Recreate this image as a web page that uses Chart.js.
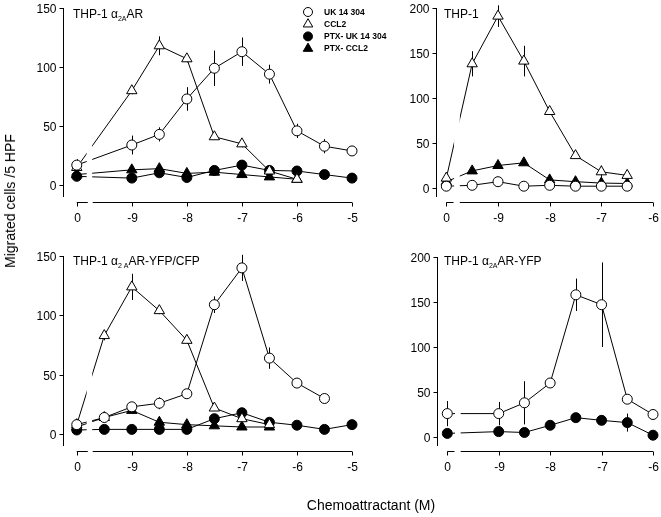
<!DOCTYPE html>
<html>
<head>
<meta charset="utf-8">
<script src="https://cdn.jsdelivr.net/npm/chart.js@4.4.1/dist/chart.umd.min.js"></script>
<style>
  body { margin: 0; background: #fff; }
  #wrap { position: relative; width: 661px; height: 517px; font-family: "Liberation Sans", Arial, sans-serif; }
  canvas { position: absolute; left: 0; top: 0; }
  .ttl { position: absolute; font-size: 14px; color: #000; white-space: nowrap; }
  #xt { left: 371px; top: 505px; transform: translate(-50%, -50%); }
  #yt { left: 10px; top: 201px; transform: translate(-50%, -50%) rotate(-90deg); }
</style>
</head>
<body>
<div id="wrap">
  <canvas id="c1" width="661" height="517"></canvas>
  <canvas id="c2" width="661" height="517"></canvas>
  <canvas id="c3" width="661" height="517"></canvas>
  <canvas id="c4" width="661" height="517"></canvas>
  <div class="ttl" id="xt">Chemoattractant (M)</div>
  <div class="ttl" id="yt">Migrated cells /5 HPF</div>
</div>
<script>
// log濃度 (0 = 対照, 軸の切れ目の左に置く)
const ZERO = -10;

// パネル1 THP-1 a2AAR
const conc1 = [0, -9, -8.5, -8, -7.5, -7, -6.5, -6, -5.5, -5];
const ticks1 = [0, -9, -8, -7, -6, -5];
const p1Uk = [17, 34, 43, 73, 99, 113, 94, 46, 33, 29];
const p1UkErr = [5, 8, 6, 10, 15, 12, 8, 6, 6, 0];
const p1Ccl2 = [15, 80, 118, 107, 41, 35, 12, 5];
const p1Ccl2Err = [0, 3, 8, 3, 2, 3, 0, 0];
const p1PtxUk = [7.5, 6, 10.5, 6.5, 12.5, 17, 12.5, 12, 9, 6];
const p1PtxCcl2 = [9, 13, 14, 10, 11, 9, 7, 5];

// パネル2 THP-1
const conc2 = [0, -9.5, -9, -8.5, -8, -7.5, -7, -6.5];
const ticks2 = [0, -9, -8, -7, -6];
const p2Uk = [2, 3, 7, 2, 3, 2, 2, 2];
const p2Ccl2 = [11, 138, 191, 141, 85, 36, 18, 14];
const p2Ccl2Err = [0, 14, 12, 17, 3, 3, 7, 2];
const p2PtxCcl2 = [7, 19, 25, 28, 9, 7, 5.5, 5];

// パネル3 THP-1 a2AAR-YFP/CFP
const conc3 = [0, -9.5, -9, -8.5, -8, -7.5, -7, -6.5, -6, -5.5, -5];
const p3Uk = [8, 14, 23, 26, 34, 109, 140, 64, 43, 30];
const p3UkErr = [2, 3, 3, 5, 2, 7, 11, 9, 0, 0];
const p3Ccl2 = [8, 83, 124, 104, 79, 22, 13, 8];
const p3Ccl2Err = [0, 4, 11, 3, 3, 0, 2, 0];
const p3PtxUk = [3.5, 4, 4, 4, 4, 13, 18, 10, 7.5, 4, 8];
const p3PtxCcl2 = [6, 14, 20, 10, 8, 7, 6, 6];

// パネル4 THP-1 a2AAR-YFP
const conc4 = [0, -9, -8.5, -8, -7.5, -7, -6.5, -6];
const p4Uk = [26, 26, 38, 60, 158, 147, 42, 25];
const p4UkErr = [14, 13, 24, 0, 18, 47, 5, 0];
const p4PtxUk = [4, 6, 5, 13, 21.5, 18.5, 16, 2];
const p4PtxUkErr = [0, 6, 0, 0, 3, 0, 10, 0];

const yTicks150 = [0, 50, 100, 150];
const yTicks200 = [0, 50, 100, 150, 200];

function pos(c) { return c === 0 ? ZERO : c; }

function series(label, conc, vals, err, style, filled) {
  return {
    label: label,
    data: vals.map((v, i) => ({ x: pos(conc[i]), y: v })),
    err: err,
    borderColor: '#000',
    borderWidth: 1,
    pointStyle: style,
    pointRadius: style === 'triangle' ? 6 : 5,
    pointBackgroundColor: filled ? '#000' : '#fff',
    pointBorderColor: '#000',
    pointBorderWidth: 1,
    tension: 0,
    fill: false,
    clip: false
  };
}

function marker(ctx, style, filled, x, y, r) {
  ctx.beginPath();
  if (style === 'triangle') {
    const c = Math.cos(Math.PI / 6) * r;
    ctx.moveTo(x, y - r);
    ctx.lineTo(x + c, y + r / 2);
    ctx.lineTo(x - c, y + r / 2);
    ctx.closePath();
  } else {
    ctx.arc(x, y, r, 0, Math.PI * 2);
  }
  ctx.fillStyle = filled ? '#000' : '#fff';
  ctx.fill();
  ctx.stroke();
}

const panelPlugin = {
  id: 'panel',
  // エラーバー
  beforeDatasetsDraw(chart) {
    const ctx = chart.ctx, xs = chart.scales.x, ys = chart.scales.y;
    ctx.save();
    ctx.strokeStyle = '#000';
    ctx.lineWidth = 1;
    chart.data.datasets.forEach(ds => {
      if (!ds.err) return;
      ds.data.forEach((p, i) => {
        const e = ds.err[i];
        if (!e) return;
        const px = Math.round(xs.getPixelForValue(p.x)) + 0.5;
        ctx.beginPath();
        ctx.moveTo(px, ys.getPixelForValue(p.y - e));
        ctx.lineTo(px, ys.getPixelForValue(p.y + e));
        ctx.stroke();
      });
    });
    ctx.restore();
  },
  afterDatasetsDraw(chart, args, o) {
    const ctx = chart.ctx, xs = chart.scales.x, ys = chart.scales.y, a = chart.chartArea;
    ctx.save();
    // 軸の切れ目
    const g1 = xs.getPixelForValue(o.gap[0]), g2 = xs.getPixelForValue(o.gap[1]);
    ctx.fillStyle = '#fff';
    ctx.fillRect(g1, a.top - 10, g2 - g1, a.bottom - a.top + 10);

    ctx.strokeStyle = '#000';
    ctx.fillStyle = '#000';
    ctx.lineWidth = 1;
    ctx.font = "12px 'Liberation Sans', Arial, sans-serif";

    // y軸
    const ax = Math.round(a.left) + 0.5;
    ctx.beginPath();
    ctx.moveTo(ax, a.top);
    ctx.lineTo(ax, a.bottom);
    ctx.stroke();
    ctx.textAlign = 'right';
    ctx.textBaseline = 'middle';
    o.yTicks.forEach(v => {
      const py = Math.round(ys.getPixelForValue(v)) + 0.5;
      ctx.beginPath();
      ctx.moveTo(ax - 4, py);
      ctx.lineTo(ax, py);
      ctx.stroke();
      ctx.fillText(String(v), ax - 7, py + 1);
    });

    // x軸
    const ay = Math.round(a.bottom) + 5.5;
    ctx.beginPath();
    ctx.moveTo(xs.getPixelForValue(ZERO), ay);
    ctx.lineTo(xs.getPixelForValue(o.cut[0]), ay);
    ctx.moveTo(xs.getPixelForValue(o.cut[1]), ay);
    ctx.lineTo(xs.getPixelForValue(xs.max), ay);
    ctx.stroke();
    ctx.textAlign = 'center';
    o.xTicks.forEach(v => {
      const px = Math.round(xs.getPixelForValue(pos(v))) + 0.5;
      ctx.beginPath();
      ctx.moveTo(px, ay);
      ctx.lineTo(px, ay + 4);
      ctx.stroke();
      ctx.fillText(String(v), px, ay + 16);
    });

    // タイトル
    let tx = o.title.x;
    ctx.textAlign = 'left';
    ctx.textBaseline = 'alphabetic';
    o.title.parts.forEach(p => {
      ctx.font = p[1] ? "7px 'Liberation Sans', Arial, sans-serif" : "12px 'Liberation Sans', Arial, sans-serif";
      ctx.fillText(p[0], tx, o.title.y + (p[1] ? 3 : 0));
      tx += ctx.measureText(p[0]).width;
    });

    // 凡例
    if (o.legend) {
      ctx.font = "bold 8.5px 'Liberation Sans', Arial, sans-serif";
      ctx.textBaseline = 'middle';
      chart.data.datasets.forEach((ds, i) => {
        const ly = o.legend.y + i * 12.2;
        const filled = ds.pointBackgroundColor === '#000';
        marker(ctx, ds.pointStyle, filled, o.legend.x, ly, ds.pointStyle === 'triangle' ? 5.5 : 4.5);
        ctx.fillStyle = '#000';
        ctx.fillText(ds.label, o.legend.x + 16, ly + 0.5);
      });
    }
    ctx.restore();
  }
};

function makePanel(id, area, xMin, xMax, yMax, datasets, opts) {
  return new Chart(document.getElementById(id), {
    type: 'line',
    data: { datasets: datasets },
    options: {
      responsive: false,
      animation: false,
      events: [],
      layout: { padding: { left: area[0], top: area[1], right: 661 - area[2], bottom: 517 - area[3] } },
      scales: {
        x: { type: 'linear', display: false, min: xMin, max: xMax },
        y: { type: 'linear', display: false, min: -10, max: yMax }
      },
      plugins: { legend: { display: false }, tooltip: { enabled: false }, panel: opts }
    },
    plugins: [panelPlugin]
  });
}

makePanel('c1', [63, 8, 352, 197], -10.25, -5, 150, [
  series('UK 14 304', conc1, p1Uk, p1UkErr, 'circle', false),
  series('CCL2', conc1, p1Ccl2, p1Ccl2Err, 'triangle', false),
  series('PTX- UK 14 304', conc1, p1PtxUk, null, 'circle', true),
  series('PTX- CCL2', conc1, p1PtxCcl2, null, 'triangle', true)
], {
  gap: [-9.82, -9.72], cut: [-9.8, -9.71], xTicks: ticks1, yTicks: yTicks150,
  title: { x: 73, y: 18, parts: [['THP-1 \u03b1', false], ['2A', true], ['AR', false]] },
  legend: { x: 308, y: 12 }
});

makePanel('c2', [436, 8, 653, 197], -10.2, -6, 200, [
  series('UK 14 304', conc2, p2Uk, null, 'circle', false),
  series('CCL2', conc2, p2Ccl2, p2Ccl2Err, 'triangle', false),
  series('PTX- CCL2', conc2, p2PtxCcl2, null, 'triangle', true)
], {
  gap: [-9.85, -9.74], cut: [-9.86, -9.74], xTicks: ticks2, yTicks: yTicks200,
  title: { x: 444, y: 18, parts: [['THP-1', false]] }
});

makePanel('c3', [63, 256, 352, 446], -10.25, -5, 150, [
  series('UK 14 304', conc3, p3Uk, p3UkErr, 'circle', false),
  series('CCL2', conc3, p3Ccl2, p3Ccl2Err, 'triangle', false),
  series('PTX- UK 14 304', conc3, p3PtxUk, null, 'circle', true),
  series('PTX- CCL2', conc3, p3PtxCcl2, null, 'triangle', true)
], {
  gap: [-9.82, -9.72], cut: [-9.8, -9.71], xTicks: ticks1, yTicks: yTicks150,
  title: { x: 73, y: 265, parts: [['THP-1 \u03b1', false], ['2 A', true], ['AR-YFP/CFP', false]] }
});

makePanel('c4', [437, 257, 653, 446], -10.2, -6, 200, [
  series('UK 14 304', conc4, p4Uk, p4UkErr, 'circle', false),
  series('PTX- UK 14 304', conc4, p4PtxUk, p4PtxUkErr, 'circle', true)
], {
  gap: [-9.85, -9.74], cut: [-9.86, -9.74], xTicks: ticks2, yTicks: yTicks200,
  title: { x: 444, y: 265, parts: [['THP-1 \u03b1', false], ['2A', true], ['AR-YFP', false]] }
});
</script>
</body>
</html>
